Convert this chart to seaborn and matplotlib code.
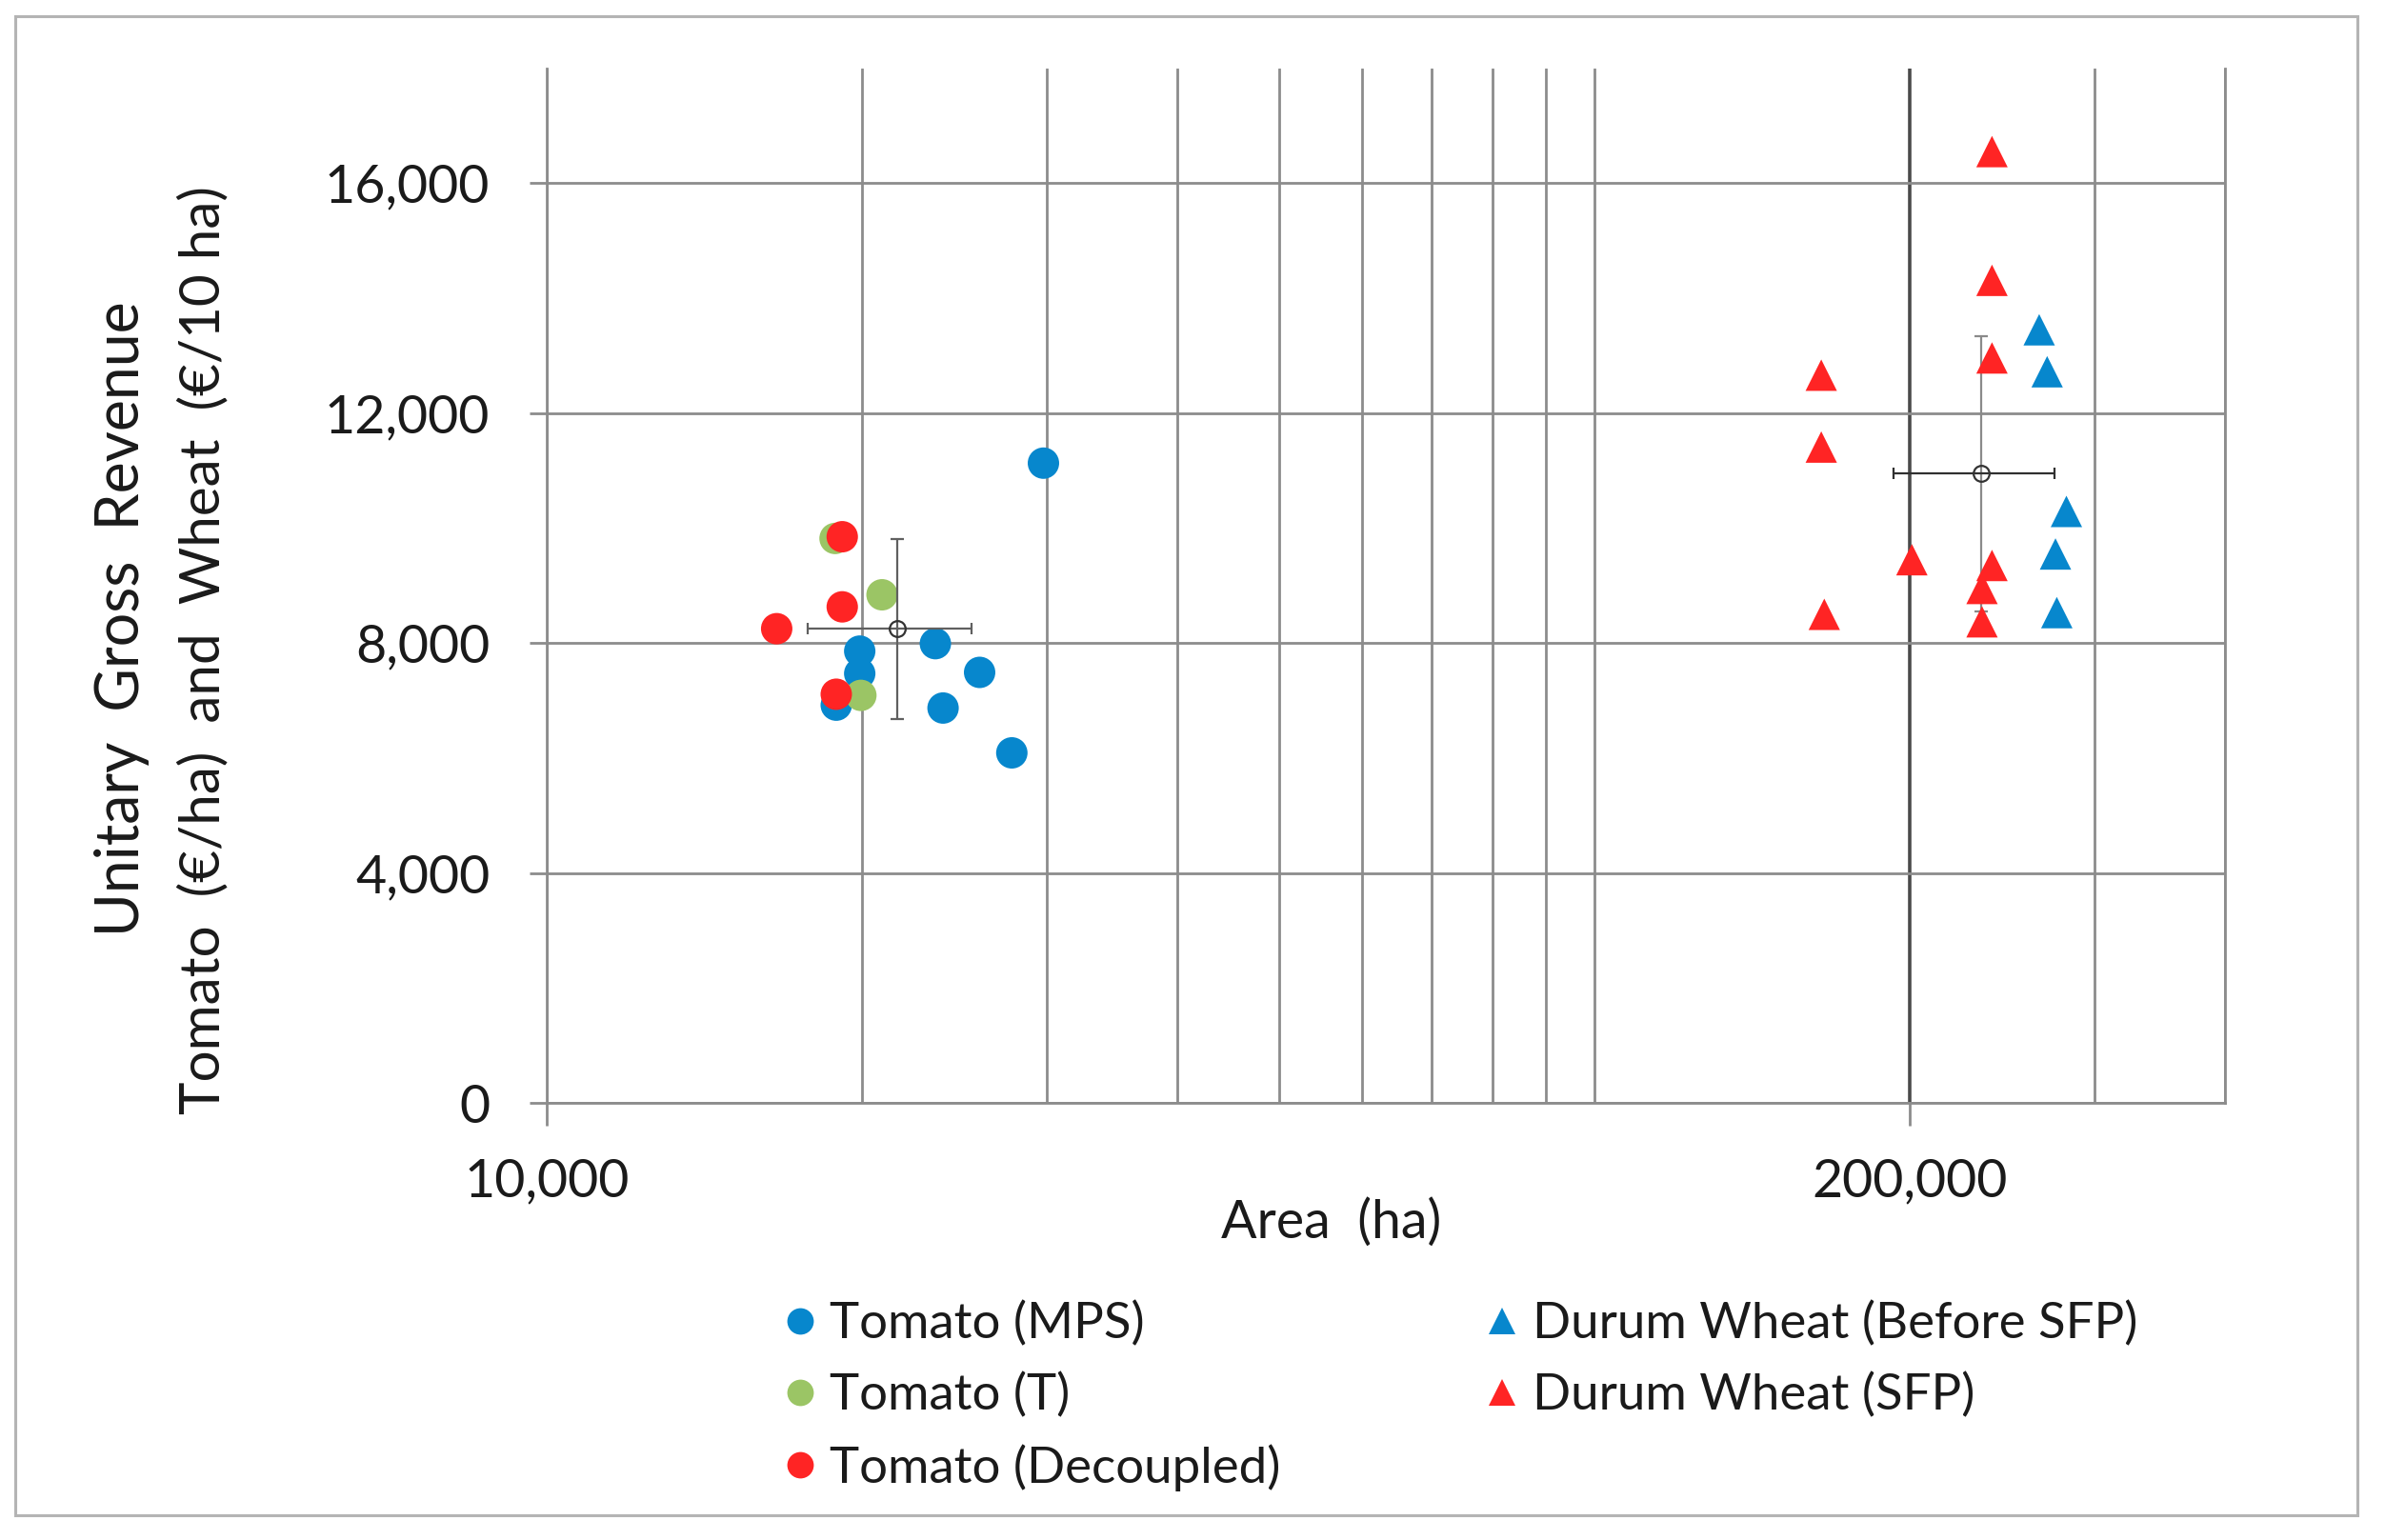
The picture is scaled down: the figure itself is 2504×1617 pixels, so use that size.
import matplotlib
matplotlib.use("Agg")
import matplotlib.pyplot as plt
from matplotlib.lines import Line2D
from matplotlib.patches import Rectangle
from matplotlib.ticker import NullFormatter
import seaborn as sns
import pandas as pd

# data: area (ha) and unitary gross revenue
mps_area = [29800, 19900, 19900, 18900, 23500, 25900, 23900, 27800]
mps_rev = [11130, 7860, 7470, 6920, 7990, 7490, 6870, 6090]
t_area = [18850, 20900, 19950]
t_rev = [9820, 8840, 7090]
dec_area = [19150, 19150, 16580, 18900]
dec_rev = [9850, 8630, 8250, 7110]
before_area = [265900, 270600, 282300, 275600, 276400]
before_rev = [13450, 12720, 10290, 9550, 8530]
sfp_area = [239700, 239700, 239700, 164700, 164700, 201000, 239700, 234500, 234500, 165800]
sfp_rev = [16550, 14310, 12960, 12660, 11410, 9450, 9350, 8950, 8370, 8500]

# mean +/- sd crosses
tomato_mean = (21600, 8250)
tomato_sd = (3840, 1565)
wheat_mean = (234100, 10945)
wheat_sd = (41000, 2400)

series = ["Tomato (MPS)", "Tomato (T)", "Tomato (Decoupled)",
          "Durum Wheat (Before SFP)", "Durum Wheat (SFP)"]
colors = ["#0787CD", "#9BC565", "#FF2424", "#0787CD", "#FF2424"]
markers = ["o", "o", "o", "^", "^"]

areas = [mps_area, t_area, dec_area, before_area, sfp_area]
revs = [mps_rev, t_rev, dec_rev, before_rev, sfp_rev]
df = pd.concat([pd.DataFrame({"area": a, "rev": r, "series": s})
                for a, r, s in zip(areas, revs, series)], ignore_index=True)

sns.set_style("white")
plt.rcParams["font.family"] = ["Lato", "DejaVu Sans"]

fig = plt.figure(figsize=(12.52, 8.085), dpi=200)
ax = fig.add_axes([0.2292, 0.2838, 0.7037, 0.6719])

sns.scatterplot(data=df, x="area", y="rev", hue="series", style="series",
                palette=dict(zip(series, colors)), markers=dict(zip(series, markers)),
                s=141, linewidth=0, legend=False, ax=ax, zorder=3)

# error crosses
grey = "#606060"
ax.errorbar(tomato_mean[0], tomato_mean[1], xerr=tomato_sd[0], fmt="none",
            ecolor=grey, elinewidth=0.8, capsize=2.0, capthick=0.8, zorder=4)
ax.errorbar(tomato_mean[0], tomato_mean[1], yerr=tomato_sd[1], fmt="none",
            ecolor=grey, elinewidth=0.8, capsize=2.5, capthick=0.8, zorder=4)
ax.errorbar(wheat_mean[0], wheat_mean[1], xerr=wheat_sd[0], fmt="none",
            ecolor="#303030", elinewidth=0.8, capsize=2.0, capthick=0.8, zorder=4)
ax.errorbar(wheat_mean[0], wheat_mean[1], yerr=wheat_sd[1], fmt="none",
            ecolor="#8a8a8a", elinewidth=0.8, capsize=2.5, capthick=0.8, zorder=2)
for m in (tomato_mean, wheat_mean):
    ax.plot(m[0], m[1], marker="o", ms=6, mfc="none", mec="#333333", mew=0.8, zorder=5)

# axes
ax.set_xscale("log")
ax.set_xlim(10000, 400000)
ax.set_ylim(0, 18000)
ax.set_xticks([10000, 200000])
ax.set_xticklabels(["10,000", "200,000"])
ax.set_xticks([20000, 30000, 40000, 50000, 60000, 70000, 80000, 90000,
               100000, 300000, 400000], minor=True)
ax.xaxis.set_minor_formatter(NullFormatter())
ax.set_yticks([0, 4000, 8000, 12000, 16000])
ax.set_yticklabels(["0", "4,000", "8,000", "12,000", "16,000"])

gridc = "#8c8c8c"
ax.grid(False)
ax.grid(which="minor", axis="x", color=gridc, lw=1.0)
ax.grid(which="major", axis="x", color="#4a4a4a", lw=1.3)
ax.grid(which="major", axis="y", color=gridc, lw=1.0)
ax.xaxis.get_gridlines()[0].set_color(gridc)
ax.xaxis.get_gridlines()[0].set_linewidth(1.0)
ax.set_axisbelow(True)

for side in ["left", "bottom", "right"]:
    ax.spines[side].set_visible(True)
    ax.spines[side].set_color(gridc)
    ax.spines[side].set_linewidth(1.0)
ax.spines["top"].set_visible(False)

ax.tick_params(axis="y", which="major", direction="out", length=6.5, width=1.0,
               color=gridc, pad=15, labelsize=20, labelcolor="#1a1a1a", left=True)
ax.tick_params(axis="x", which="major", direction="out", length=8.5, width=1.0,
               color=gridc, pad=12, labelsize=20, labelcolor="#1a1a1a", bottom=True)
ax.tick_params(axis="x", which="minor", length=0)

ax.set_xlabel("Area  (ha)", fontsize=20, color="#1a1a1a")
ax.xaxis.set_label_coords(0.4677, -0.116)
ax.xaxis.label.set_va("center")
ax.set_ylabel("")

fig.text(0.0511, 0.598, "Unitary  Gross  Revenue", rotation=90, fontsize=22.5,
         color="#1a1a1a", ha="center", va="center")
fig.text(0.0851, 0.578, "Tomato  (€/ha)  and  Wheat  (€/10 ha)", rotation=90,
         fontsize=21, color="#1a1a1a", ha="center", va="center")

handles = [Line2D([], [], ls="none", marker=mk, color=c, ms=10, mew=0)
           for mk, c in zip(markers, colors)]
fig.legend(handles, series, loc="upper left", bbox_to_anchor=(0.329, 0.155),
           ncol=2, frameon=False, fontsize=19, handlelength=0.6,
           handletextpad=0.3, columnspacing=4.1, labelspacing=0.5,
           borderpad=0, borderaxespad=0, labelcolor="#1a1a1a")

fig.add_artist(Rectangle((0.0064, 0.0161), 0.982, 0.9734, transform=fig.transFigure,
                         fill=False, ec="#b4b4b4", lw=1.1))

fig.savefig("out.png", dpi=200)
